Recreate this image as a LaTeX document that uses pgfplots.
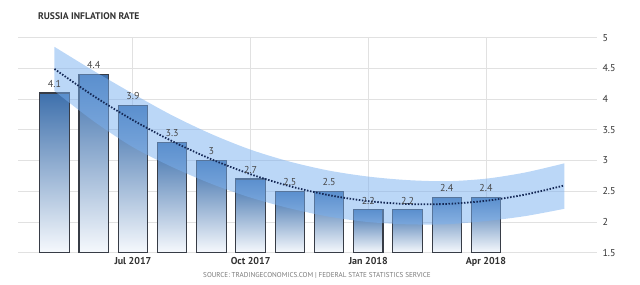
\documentclass[border=0pt]{standalone}
\usepackage{fontspec}
\setmainfont{PT Sans}
\usepackage{pgfplots}
\pgfplotsset{compat=1.18}
\usepgfplotslibrary{fillbetween}
\definecolor{gridc}{RGB}{225,225,225}
\definecolor{bartop}{RGB}{62,112,172}
\definecolor{barbot}{RGB}{246,249,253}
\definecolor{barborder}{RGB}{55,60,70}
\definecolor{bandc}{RGB}{120,175,240}
\definecolor{trendc}{RGB}{20,40,85}
\definecolor{labc}{RGB}{70,70,70}
\definecolor{tickc}{RGB}{50,50,50}
\definecolor{srcc}{RGB}{120,120,120}
\pgfplotsset{
  layers/mylayers/.define layer set={axis background, axis grid, bars, pre main, main, axis ticks, axis lines, axis tick labels, axis descriptions, axis foreground}{},
  barstyle/.style={draw=barborder, line width=1.1bp, top color=bartop, bottom color=barbot, on layer=bars}
}
\begin{document}
\begin{tikzpicture}
\path (0bp,0bp) rectangle (640bp,285bp);
\node[anchor=west, text=tickc, font=\fontsize{9.6bp}{11bp}\selectfont\bfseries, inner sep=0pt] at (38bp,268.5bp) {RUSSIA INFLATION RATE};
\node[text=srcc, font=\fontsize{7.1bp}{8bp}\selectfont, inner sep=0pt] at (317bp,10bp) {SOURCE: TRADINGECONOMICS.COM | FEDERAL STATE STATISTICS SERVICE};
\begin{axis}[
  set layers=mylayers,
  at={(18bp,32.3bp)}, anchor=south west,
  scale only axis, width=579bp, height=215bp,
  xmin=-0.93, xmax=13.83, ymin=1.5, ymax=5,
  axis line style={draw=none},
  major tick length=0pt,
  unbounded coords=jump,
  /pgf/number format/assume math mode=true,
  ytick={1.5,2,2.5,3,3.5,4,4.5,5},
  yticklabel pos=right,
  yticklabel style={anchor=west, xshift=2bp, text=tickc, font=\fontsize{10bp}{12bp}\selectfont},
  xtick={2,5,8,11},
  xticklabels={Jul 2017, Oct 2017, Jan 2018, Apr 2018},
  xticklabel style={yshift=-1bp, text=tickc, font=\fontsize{10bp}{12bp}\selectfont\bfseries},
]
% grid lines (behind bars)
\addplot[gridc, line width=0.9bp, on layer=axis background, forget plot] coordinates {
 (-0.93,1.5) (13.83,1.5) (0,nan) (-0.93,2) (13.83,2) (0,nan) (-0.93,2.5) (13.83,2.5) (0,nan)
 (-0.93,3) (13.83,3) (0,nan) (-0.93,3.5) (13.83,3.5) (0,nan) (-0.93,4) (13.83,4) (0,nan)
 (-0.93,4.5) (13.83,4.5) (0,nan) (-0.93,5) (13.83,5) (0,nan)
 (2,1.5) (2,5) (0,nan) (5,1.5) (5,5) (0,nan) (8,1.5) (8,5) (0,nan) (11,1.5) (11,5)};
\addplot[barstyle] coordinates {(-0.375,1.5) (-0.375,4.1) (0.375,4.1) (0.375,1.5)} -- cycle;
\addplot[barstyle] coordinates {(0.625,1.5) (0.625,4.4) (1.375,4.4) (1.375,1.5)} -- cycle;
\addplot[barstyle] coordinates {(1.625,1.5) (1.625,3.9) (2.375,3.9) (2.375,1.5)} -- cycle;
\addplot[barstyle] coordinates {(2.625,1.5) (2.625,3.3) (3.375,3.3) (3.375,1.5)} -- cycle;
\addplot[barstyle] coordinates {(3.625,1.5) (3.625,3.0) (4.375,3.0) (4.375,1.5)} -- cycle;
\addplot[barstyle] coordinates {(4.625,1.5) (4.625,2.7) (5.375,2.7) (5.375,1.5)} -- cycle;
\addplot[barstyle] coordinates {(5.625,1.5) (5.625,2.5) (6.375,2.5) (6.375,1.5)} -- cycle;
\addplot[barstyle] coordinates {(6.625,1.5) (6.625,2.5) (7.375,2.5) (7.375,1.5)} -- cycle;
\addplot[barstyle] coordinates {(7.625,1.5) (7.625,2.2) (8.375,2.2) (8.375,1.5)} -- cycle;
\addplot[barstyle] coordinates {(8.625,1.5) (8.625,2.2) (9.375,2.2) (9.375,1.5)} -- cycle;
\addplot[barstyle] coordinates {(9.625,1.5) (9.625,2.4) (10.375,2.4) (10.375,1.5)} -- cycle;
\addplot[barstyle] coordinates {(10.625,1.5) (10.625,2.4) (11.375,2.4) (11.375,1.5)} -- cycle;
% value labels
\addplot[only marks, mark=none, nodes near coords, point meta=explicit symbolic,
  every node near coord/.append style={anchor=south, yshift=2bp, text=labc, font=\fontsize{10bp}{12bp}\selectfont}]
  coordinates {(0,4.1)[4.1] (1,4.4)[4.4] (2,3.9)[3.9] (3,3.3)[3.3] (4,3.0)[3] (5,2.7)[2.7] (6,2.5)[2.5] (7,2.5)[2.5] (8,2.2)[2.2] (9,2.2)[2.2] (10,2.4)[2.4] (11,2.4)[2.4]};
% band
\addplot[name path=upper, draw=none, smooth] coordinates {(0,4.851) (1,4.460) (2,4.088) (3,3.735) (4,3.431) (5,3.177) (6,2.982) (7,2.836) (8,2.739) (9,2.682) (10,2.664) (11,2.705) (12,2.806) (13,2.955)};
\addplot[name path=lower, draw=none, smooth] coordinates {(0,4.131) (1,3.640) (2,3.218) (3,2.895) (4,2.621) (5,2.397) (6,2.222) (7,2.086) (8,1.999) (9,1.962) (10,1.964) (11,2.015) (12,2.096) (13,2.215)};
\addplot[fill=bandc, fill opacity=0.5, draw=none] fill between[of=upper and lower];
% trend
\addplot[trendc, line width=1.8bp, dash pattern=on 1.5bp off 1.6bp, smooth] coordinates {(0,4.491) (1,4.050) (2,3.658) (3,3.315) (4,3.021) (5,2.777) (6,2.582) (7,2.436) (8,2.339) (9,2.292) (10,2.294) (11,2.345) (12,2.446) (13,2.595)};
\end{axis}
\end{tikzpicture}
\end{document}
